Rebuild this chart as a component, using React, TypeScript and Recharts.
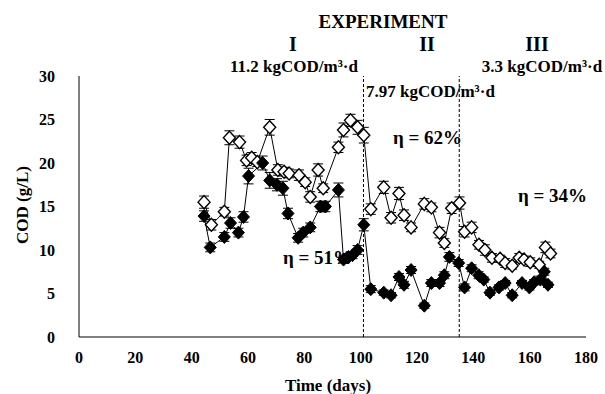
import React from 'react';
import { ComposedChart, Line, XAxis, YAxis, ReferenceLine, ErrorBar } from 'recharts';

const xTicks = [0, 20, 40, 60, 80, 100, 120, 140, 160, 180];
const yTicks = [0, 5, 10, 15, 20, 25, 30];
const phaseBoundaries = [101, 135];

const inDays = [44.4, 47.0, 51.6, 53.4, 57.0, 59.5, 61.3, 63.3, 67.7, 70.6, 72.8, 74.6, 78.1, 80.3, 82.1, 84.9, 86.7, 92.1, 93.9, 96.4, 98.9, 101.1, 103.6, 108.2, 110.8, 113.6, 115.4, 117.9, 122.6, 125.1, 128.0, 129.7, 132.3, 135.1, 136.9, 139.4, 142.0, 144.1, 146.6, 149.5, 151.3, 153.8, 156.3, 158.0, 160.2, 163.4, 165.6, 167.4];
const inVals = [15.5, 12.9, 14.4, 22.9, 22.4, 20.3, 20.6, 20.1, 24.1, 19.2, 19.0, 18.8, 18.6, 17.8, 16.1, 19.2, 17.1, 21.8, 23.8, 24.9, 24.1, 23.2, 14.7, 17.2, 13.7, 16.5, 14.0, 12.6, 15.3, 14.9, 12.0, 10.8, 14.8, 15.4, 12.1, 12.6, 10.6, 10.0, 9.1, 9.0, 8.5, 8.2, 9.1, 8.9, 8.6, 8.3, 10.3, 9.6];
const inErr = [0.7, 0.6, 0.5, 0.8, 0.7, 0.6, 0.6, 0.5, 0.9, 0.6, 0.5, 0.5, 0.6, 0.5, 0.6, 0.7, 0.5, 0.6, 0.8, 0.7, 0.8, 0.9, 0.6, 0.7, 0.6, 0.7, 0.6, 0.5, 0.6, 0.5, 0.6, 0.5, 0.6, 0.7, 0.6, 0.6, 0.5, 0.6, 0.5, 0.4, 0.5, 0.4, 0.5, 0.4, 0.5, 0.4, 0.6, 0.5];

const efDays = [44.4, 46.6, 51.6, 53.8, 56.6, 58.4, 60.2, 65.2, 67.7, 70.3, 72.4, 74.2, 77.8, 79.6, 82.1, 85.7, 87.5, 92.1, 93.9, 95.7, 97.1, 98.9, 101.1, 103.6, 108.2, 110.8, 113.6, 115.4, 117.9, 122.6, 125.1, 128.0, 129.7, 131.5, 134.8, 136.9, 139.4, 141.9, 143.7, 145.9, 149.1, 151.3, 153.8, 157.3, 159.9, 161.6, 163.8, 165.2, 166.5];
const efVals = [13.9, 10.3, 11.5, 13.1, 12.0, 13.8, 18.5, 20.0, 18.0, 17.5, 17.1, 14.2, 11.4, 12.0, 12.6, 15.0, 15.0, 16.9, 8.9, 9.2, 9.4, 10.0, 12.9, 5.5, 5.1, 4.8, 6.9, 6.0, 7.7, 3.6, 6.2, 6.2, 7.1, 9.2, 8.5, 5.7, 7.9, 7.1, 6.6, 5.1, 5.7, 6.2, 4.8, 6.2, 5.7, 6.3, 6.6, 7.5, 6.0];
const efErr = [0.6, 0.5, 0.5, 0.6, 0.5, 0.6, 0.9, 0.8, 0.9, 0.7, 0.8, 0.6, 0.5, 0.5, 0.5, 0.6, 0.6, 0.8, 0.4, 0.4, 0.4, 0.5, 0.7, 0.4, 0.3, 0.3, 0.4, 0.4, 0.4, 0.3, 0.4, 0.4, 0.4, 0.5, 0.4, 0.4, 0.4, 0.4, 0.3, 0.3, 0.3, 0.3, 0.3, 0.3, 0.3, 0.3, 0.4, 0.4, 0.3];

const influent = inDays.map((d, i) => ({ day: d, cod: inVals[i], err: inErr[i] }));
const effluent = efDays.map((d, i) => ({ day: d, cod: efVals[i], err: efErr[i] }));

const FONT = '"Liberation Serif", "Times New Roman", serif';

const makeDiamond = (filled: boolean) => (props: any) => {
  const { cx, cy, index } = props;
  if (cx == null || cy == null) return <g key={`d-${index}`} />;
  const w = 6;
  const h = 6.5;
  return (
    <polygon
      key={`d-${filled ? 'f' : 'o'}-${index}`}
      points={`${cx},${cy - h} ${cx + w},${cy} ${cx},${cy + h} ${cx - w},${cy}`}
      fill={filled ? '#000' : '#fff'}
      stroke="#000"
      strokeWidth={filled ? 1 : 1.4}
    />
  );
};

const textStyle = (size: number): React.CSSProperties => ({
  position: 'absolute',
  fontFamily: FONT,
  fontWeight: 'bold',
  fontSize: size,
  lineHeight: 1,
  whiteSpace: 'nowrap',
  color: '#000',
});

const Centered = ({ x, y, size = 16, children }: any) => (
  <div style={{ ...textStyle(size), left: x, top: y, transform: 'translate(-50%, -50%)' }}>{children}</div>
);
const LeftAt = ({ x, y, size = 16, children }: any) => (
  <div style={{ ...textStyle(size), left: x, top: y, transform: 'translate(0, -50%)' }}>{children}</div>
);

export default function App() {
  return (
    <div style={{ position: 'absolute', left: 0, top: 0, width: 605, height: 394, background: '#fff' }}>
      <ComposedChart width={605} height={394} margin={{ top: 76, right: 19, bottom: 27, left: 19 }}>
        <XAxis
          type="number"
          dataKey="day"
          domain={[0, 180]}
          ticks={xTicks}
          allowDuplicatedCategory={false}
          tickLine={false}
          tickSize={6}
          tickMargin={9}
          height={30}
          axisLine={{ stroke: '#000', strokeWidth: 1 }}
          tick={{ fill: '#000', fontFamily: FONT, fontWeight: 'bold', fontSize: 16 }}
        />
        <YAxis
          type="number"
          domain={[0, 30]}
          ticks={yTicks}
          width={60}
          tickLine={false}
          tickSize={6}
          tickMargin={18}
          axisLine={{ stroke: '#000', strokeWidth: 1 }}
          tick={{ fill: '#000', fontFamily: FONT, fontWeight: 'bold', fontSize: 16 }}
        />
        {phaseBoundaries.map((b) => (
          <ReferenceLine key={b} x={b} stroke="#000" strokeWidth={1} strokeDasharray="3 2" />
        ))}
        <Line
          data={influent}
          dataKey="cod"
          type="linear"
          stroke="#000"
          strokeWidth={1}
          dot={makeDiamond(false)}
          activeDot={false}
          isAnimationActive={false}
        >
          <ErrorBar dataKey="err" direction="y" width={5} stroke="#000" strokeWidth={1} />
        </Line>
        <Line
          data={effluent}
          dataKey="cod"
          type="linear"
          stroke="#000"
          strokeWidth={1}
          dot={makeDiamond(true)}
          activeDot={false}
          isAnimationActive={false}
        >
          <ErrorBar dataKey="err" direction="y" width={5} stroke="#000" strokeWidth={1} />
        </Line>
      </ComposedChart>

      <Centered x={383} y={21} size={19}>EXPERIMENT</Centered>
      <Centered x={293} y={44} size={20}>I</Centered>
      <Centered x={427} y={44} size={20}>II</Centered>
      <Centered x={537} y={44} size={20}>III</Centered>
      <Centered x={294} y={66} size={17}>11.2 kgCOD/m³·d</Centered>
      <Centered x={542} y={66} size={17}>3.3 kgCOD/m³·d</Centered>
      <LeftAt x={366} y={91} size={17}>7.97 kgCOD/m³·d</LeftAt>
      <LeftAt x={393} y={137} size={19}>η = 62%</LeftAt>
      <LeftAt x={518} y={195} size={19}>η = 34%</LeftAt>
      <LeftAt x={283} y={257} size={19}>η = 51%</LeftAt>
      <Centered x={328} y={385} size={17}>Time (days)</Centered>
      <div style={{ ...textStyle(17), left: 22, top: 205, transform: 'translate(-50%, -50%) rotate(-90deg)' }}>COD (g/L)</div>
    </div>
  );
}
